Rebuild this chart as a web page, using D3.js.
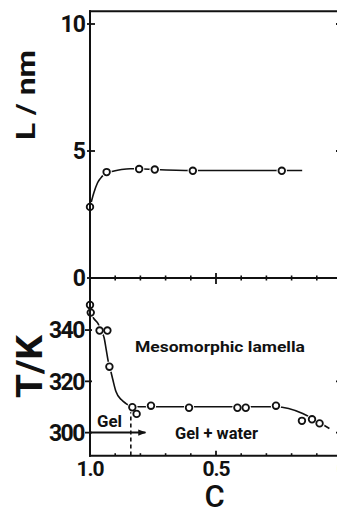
<!DOCTYPE html>
<html><head><meta charset="utf-8">
<script src="https://cdn.jsdelivr.net/npm/d3@7"></script>
<style>
body{margin:0;background:#fff}
svg{display:block}
text{font-family:Roboto,"DejaVu Sans",sans-serif;fill:#111}
</style>
</head><body>
<svg id="c" width="337" height="509"></svg>
<script>
// ---- data ----
const cL = [1.0, 0.934, 0.805, 0.743, 0.592, 0.239];
const L  = [2.8, 4.17, 4.29, 4.27, 4.22, 4.22];
const fitLc = [1.0, 0.985, 0.97, 0.952, 0.934, 0.914, 0.875, 0.84, 0.805, 0.743, 0.592, 0.239, 0.158];
const fitLv = [2.8, 3.35, 3.75, 4.0, 4.15, 4.19, 4.27, 4.3, 4.3, 4.27, 4.23, 4.23, 4.23];

const cT = [1.0, 0.997, 0.962, 0.931, 0.923, 0.832, 0.815, 0.758, 0.607, 0.415, 0.382, 0.262, 0.159, 0.119, 0.089];
const T  = [349.8, 346.8, 339.8, 339.8, 325.7, 309.9, 307.3, 310.5, 309.7, 309.7, 309.7, 310.5, 304.6, 305.2, 303.6];
const fitTc = [1.0, 0.997, 0.985, 0.968, 0.955, 0.944, 0.935, 0.928, 0.92, 0.909, 0.897, 0.875, 0.858, 0.838, 0.815, 0.758, 0.262, 0.05];
const fitTv = [350.5, 347, 344.5, 342.5, 339.5, 337, 332, 328, 325, 320.5, 316, 312.8, 311.4, 310.3, 310.1, 310.1, 310.1, 301.6];

const cTicksMinor = [0.9, 0.8, 0.7, 0.6, 0.4, 0.3, 0.2, 0.1];
const cTicksMajor = [0.5];
const cLabels = [1.0, 0.5, 0];
const lTicks = [0, 5, 10];
const lRightTicks = [5, 10];
const tTicks = [300, 320, 340];
const tRightTicks = [300, 320];
const gelBoundaryC = 0.838;
const gelBoundaryT = 309;
const arrowT = 300;
const arrowEndC = 0.78;

// ---- scales ----
const svg = d3.select("#c");
const x = d3.scaleLinear().domain([1, 0]).range([90, 342]);
const yL = d3.scaleLinear().domain([0, 10.5]).range([278, 11.3]);
const yT = d3.scaleLinear().domain([291, 360.3]).range([455.7, 278]);
const ink = "#111";

// ---- frame ----
const x0 = x(1), x1 = x(0);
const frame = [[x0, yL(10.5), x1, yL(10.5)], [x0, yL(10.5), x0, yT(291)],
               [x0, yL(0), x1, yL(0)], [x0, yT(291), x1, yT(291)], [x1, yL(10.5), x1, yT(291)]];
svg.selectAll("line.frame").data(frame).join("line").attr("class","frame")
  .attr("x1",d=>d[0]).attr("y1",d=>d[1]).attr("x2",d=>d[2]).attr("y2",d=>d[3])
  .attr("stroke",ink).attr("stroke-width",2).attr("stroke-linecap","square");

// middle axis ticks (both sides)
svg.selectAll("line.mt").data(cTicksMinor).join("line").attr("class","mt")
  .attr("x1",d=>x(d)).attr("x2",d=>x(d)).attr("y1",yL(0)-2.5).attr("y2",yL(0)+2.5)
  .attr("stroke",ink).attr("stroke-width",1.6);
svg.selectAll("line.mM").data(cTicksMajor).join("line").attr("class","mM")
  .attr("x1",d=>x(d)).attr("x2",d=>x(d)).attr("y1",yL(0)-5).attr("y2",yL(0)+6)
  .attr("stroke",ink).attr("stroke-width",1.8);
// bottom axis ticks (inward)
svg.selectAll("line.bt").data(cTicksMinor).join("line").attr("class","bt")
  .attr("x1",d=>x(d)).attr("x2",d=>x(d)).attr("y1",yT(291)).attr("y2",yT(291)-2.5)
  .attr("stroke",ink).attr("stroke-width",1.6);
svg.selectAll("line.bM").data(cTicksMajor).join("line").attr("class","bM")
  .attr("x1",d=>x(d)).attr("x2",d=>x(d)).attr("y1",yT(291)).attr("y2",yT(291)-5)
  .attr("stroke",ink).attr("stroke-width",1.8);

// left ticks
svg.selectAll("line.lt").data(lTicks).join("line").attr("class","lt")
  .attr("x1",x0-3).attr("x2",x0+5).attr("y1",d=>yL(d)).attr("y2",d=>yL(d))
  .attr("stroke",ink).attr("stroke-width",1.8);
svg.selectAll("line.tt").data(tTicks).join("line").attr("class","tt")
  .attr("x1",x0-5).attr("x2",x0+2).attr("y1",d=>yT(d)).attr("y2",d=>yT(d))
  .attr("stroke",ink).attr("stroke-width",1.8);
// right ticks (inward)
svg.selectAll("line.rl").data(lRightTicks).join("line").attr("class","rl")
  .attr("x1",x1).attr("x2",x1-6).attr("y1",d=>yL(d)).attr("y2",d=>yL(d))
  .attr("stroke",ink).attr("stroke-width",1.8);
svg.selectAll("line.rt").data(tRightTicks).join("line").attr("class","rt")
  .attr("x1",x1).attr("x2",x1-6).attr("y1",d=>yT(d)).attr("y2",d=>yT(d))
  .attr("stroke",ink).attr("stroke-width",1.8);

// tick labels
svg.selectAll("text.ll").data(lTicks).join("text").attr("class","ll")
  .attr("x",x0-5).attr("y",d=>yL(d)).attr("dy","0.36em").attr("text-anchor","end")
  .attr("font-size",23).attr("font-weight","bold").attr("letter-spacing",-1)
  .text(d=>d);
svg.selectAll("text.tl").data(tTicks).join("text").attr("class","tl")
  .attr("x",x0-6).attr("y",d=>yT(d)).attr("dy","0.36em").attr("text-anchor","end")
  .attr("font-size",23).attr("font-weight","bold").attr("letter-spacing",-1.5)
  .text(d=>d);
svg.selectAll("text.cl").data(cLabels).join("text").attr("class","cl")
  .attr("x",d=>x(d)).attr("y",476).attr("text-anchor","middle")
  .attr("font-size",21).attr("font-weight","bold").attr("letter-spacing",-1)
  .text(d=>d===0?"0":d3.format(".1f")(d));

// axis titles
svg.append("text").attr("transform","translate(35,95) rotate(-90)")
  .attr("text-anchor","middle").attr("font-size",25).attr("font-weight","bold")
  .attr("textLength",90).attr("lengthAdjust","spacingAndGlyphs").text("L / nm");
svg.append("text").attr("transform","translate(42,366.5) rotate(-90)")
  .attr("text-anchor","middle").attr("font-size",36).attr("font-weight","bold")
  .attr("textLength",63).attr("lengthAdjust","spacingAndGlyphs").text("T/K");
svg.append("text").attr("x",214.5).attr("y",506.5).attr("text-anchor","middle")
  .attr("font-size",31).attr("font-weight","500").text("C");

// region labels
svg.append("text").attr("x",135).attr("y",352).attr("font-size",15).attr("font-weight","bold")
  .attr("textLength",170).attr("lengthAdjust","spacingAndGlyphs").text("Mesomorphic lamella");
svg.append("text").attr("x",97).attr("y",426.5).attr("font-size",16).attr("font-weight","bold")
  .attr("textLength",25).attr("lengthAdjust","spacingAndGlyphs").text("Gel");
svg.append("text").attr("x",175).attr("y",438.5).attr("font-size",16).attr("font-weight","bold")
  .attr("textLength",83).attr("lengthAdjust","spacingAndGlyphs").text("Gel + water");

// dashed gel boundary and arrow
svg.append("line").attr("x1",x(gelBoundaryC)).attr("x2",x(gelBoundaryC))
  .attr("y1",yT(gelBoundaryT)).attr("y2",yT(291))
  .attr("stroke",ink).attr("stroke-width",1.6).attr("stroke-dasharray","4,3");
svg.append("defs").append("marker").attr("id","ah").attr("viewBox","0 0 10 10")
  .attr("refX",9).attr("refY",5).attr("markerWidth",10).attr("markerHeight",8)
  .attr("markerUnits","userSpaceOnUse").attr("orient","auto")
  .append("path").attr("d","M0,1 L10,5 L0,9 Z").attr("fill",ink);
svg.append("line").attr("x1",x(1)).attr("x2",x(arrowEndC)).attr("y1",yT(arrowT)).attr("y2",yT(arrowT))
  .attr("stroke",ink).attr("stroke-width",2).attr("marker-end","url(#ah)");

// fitted lines
const lineL = d3.line().x(d=>x(d[0])).y(d=>yL(d[1])).curve(d3.curveMonotoneX);
const lineT = d3.line().x(d=>x(d[0])).y(d=>yT(d[1])).curve(d3.curveMonotoneX);
svg.append("path").attr("d",lineL(d3.zip(fitLc,fitLv))).attr("fill","none").attr("stroke",ink).attr("stroke-width",1.6);
svg.append("path").attr("d",lineT(d3.zip(fitTc,fitTv))).attr("fill","none").attr("stroke",ink).attr("stroke-width",1.6);

// points
const ptsL = d3.zip(cL,L).map(d=>[x(d[0]),yL(d[1])]);
const ptsT = d3.zip(cT,T).map(d=>[x(d[0]),yT(d[1])]);
const pts = ptsL.concat(ptsT);
svg.selectAll("circle.halo").data(pts).join("circle").attr("class","halo")
  .attr("cx",d=>d[0]).attr("cy",d=>d[1]).attr("r",5.2).attr("fill","#fff");
svg.selectAll("circle.pt").data(pts).join("circle").attr("class","pt")
  .attr("cx",d=>d[0]).attr("cy",d=>d[1]).attr("r",3.3).attr("fill","#fff")
  .attr("stroke",ink).attr("stroke-width",1.8);
// redraw left axis over halos
svg.append("line").attr("x1",x0).attr("x2",x0).attr("y1",yL(10.5)).attr("y2",yT(291))
  .attr("stroke",ink).attr("stroke-width",2);
</script>
</body></html>
